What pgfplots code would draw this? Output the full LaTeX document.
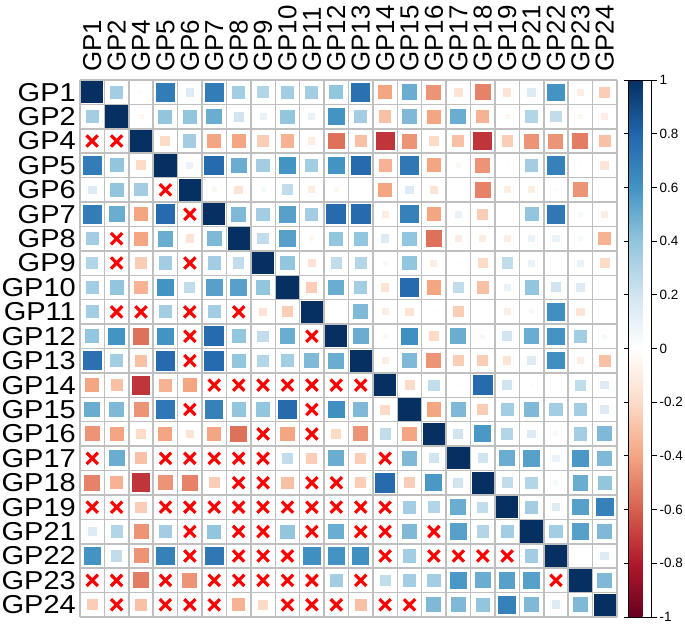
\documentclass[border=0pt]{standalone}
\usepackage{pgfplots}
\pgfplotsset{compat=1.18}
\usepackage{pgfplotstable}
\usepackage{graphicx}
\usepackage{fontspec}
\setmainfont{Liberation Sans}
\newcommand\labfont{\fontsize{26}{28}\selectfont}
\newcommand\cbfont{\fontsize{13.5}{15}\selectfont}
\newcommand\wl[1]{\scalebox{1.12}[1]{#1}}

% upper triangle (incl. diagonal): x = column index, y = row index, r = correlation,
% s = 1 if the mirrored lower-triangle cell is significant (square), 0 if crossed out
\pgfplotstableread{
x y r s
0 0 1 1
1 0 0.35 1
2 0 0.02 0
3 0 0.7 1
4 0 0.15 1
5 0 0.7 1
6 0 0.35 1
7 0 0.3 1
8 0 0.35 1
9 0 0.35 1
10 0 0.4 1
11 0 0.75 1
12 0 -0.4 1
13 0 0.5 1
14 0 -0.45 1
15 0 -0.15 0
16 0 -0.5 1
17 0 -0.15 0
18 0 0.15 1
19 0 0.6 1
20 0 -0.1 0
21 0 -0.25 1
1 1 1 1
2 1 -0.05 0
3 1 0.4 1
4 1 0.4 1
5 1 0.5 1
6 1 0.2 0
7 1 0.1 0
8 1 0.4 1
9 1 0.1 0
10 1 0.6 1
11 1 0.35 1
12 1 -0.3 1
13 1 0.45 1
14 1 -0.4 1
15 1 0.5 1
16 1 -0.35 1
17 1 -0.05 0
18 1 0.3 1
19 1 0.25 1
20 1 -0.05 0
21 1 -0.1 0
2 2 1 1
3 2 -0.2 1
4 2 0.35 1
5 2 -0.4 1
6 2 -0.4 1
7 2 -0.25 1
8 2 -0.35 1
9 2 -0.1 0
10 2 -0.55 1
11 2 -0.3 1
12 2 -0.72 1
13 2 -0.45 1
14 2 -0.2 1
15 2 -0.3 1
16 2 -0.72 1
17 2 -0.25 1
18 2 -0.45 1
19 2 -0.45 1
20 2 -0.52 1
21 2 -0.3 1
3 3 1 1
4 3 0.1 0
5 3 0.78 1
6 3 0.5 1
7 3 0.35 1
8 3 0.6 1
9 3 0.35 1
10 3 0.6 1
11 3 0.78 1
12 3 -0.35 1
13 3 0.72 1
14 3 -0.4 1
15 3 -0.05 0
16 3 -0.45 1
17 3 0.02 0
18 3 0.35 1
19 3 0.68 1
20 3 0.02 0
21 3 -0.15 0
4 4 1 1
5 4 -0.05 0
6 4 -0.15 1
7 4 0.05 0
8 4 0.25 1
9 4 -0.1 0
10 4 -0.05 0
11 4 0.02 0
12 4 -0.4 1
13 4 0.15 0
14 4 -0.15 1
15 4 0.02 0
16 4 -0.5 1
17 4 -0.1 0
18 4 -0.1 0
19 4 -0.02 0
20 4 -0.45 1
21 4 0.01 0
5 5 1 1
6 5 0.45 1
7 5 0.35 1
8 5 0.55 1
9 5 0.35 1
10 5 0.78 1
11 5 0.78 1
12 5 -0.1 0
13 5 0.68 1
14 5 -0.4 1
15 5 0.1 0
16 5 -0.25 1
17 5 0.01 0
18 5 0.4 1
19 5 0.72 1
20 5 0.05 0
21 5 -0.1 0
6 6 1 1
7 6 0.25 1
8 6 0.55 1
9 6 -0.05 0
10 6 0.4 1
11 6 0.4 1
12 6 0.15 0
13 6 0.4 1
14 6 -0.55 1
15 6 -0.1 0
16 6 -0.1 0
17 6 -0.1 0
18 6 0.1 0
19 6 0.1 0
20 6 0.05 0
21 6 -0.35 1
7 7 1 1
8 7 0.4 1
9 7 -0.15 1
10 7 0.25 1
11 7 0.3 1
12 7 0.05 0
13 7 0.4 1
14 7 -0.1 0
15 7 0.02 0
16 7 -0.2 0
17 7 0.25 0
18 7 0.1 0
19 7 0.01 0
20 7 0.1 0
21 7 -0.2 1
8 8 1 1
9 8 -0.25 1
10 8 0.5 1
11 8 0.35 1
12 8 -0.15 0
13 8 0.78 1
14 8 -0.4 1
15 8 0.25 1
16 8 -0.3 1
17 8 0.1 0
18 8 0.4 1
19 8 0.2 0
20 8 0.15 0
21 8 0.02 0
9 9 1 1
10 9 0.02 0
11 9 0.45 1
12 9 -0.1 0
13 9 -0.15 0
14 9 0.02 0
15 9 -0.25 1
16 9 0.02 0
17 9 -0.1 0
18 9 -0.05 0
19 9 0.62 1
20 9 -0.15 0
21 9 0.01 0
10 10 1 1
11 10 0.5 1
12 10 0.05 0
13 10 0.62 1
14 10 -0.2 1
15 10 0.5 1
16 10 0.05 0
17 10 0.2 0
18 10 0.5 1
19 10 0.6 1
20 10 0.35 1
21 10 0.05 0
11 11 1 1
12 11 -0.1 0
13 11 0.45 1
14 11 -0.45 1
15 11 -0.25 1
16 11 -0.25 1
17 11 -0.15 0
18 11 0.15 0
19 11 0.62 1
20 11 -0.1 0
21 11 -0.3 1
12 12 1 1
13 12 -0.2 1
14 12 0.25 1
15 12 0.02 0
16 12 0.78 1
17 12 0.2 0
18 12 0.02 0
19 12 0.01 0
20 12 0.25 1
21 12 0.15 0
13 13 1 1
14 13 -0.4 1
15 13 0.45 1
16 13 -0.25 1
17 13 0.35 1
18 13 0.45 1
19 13 0.35 1
20 13 0.35 1
21 13 0.15 0
14 14 1 1
15 14 0.2 1
16 14 0.58 1
17 14 0.3 1
18 14 0.15 0
19 14 0.05 0
20 14 0.35 1
21 14 0.45 1
15 15 1 1
16 15 0.2 1
17 15 0.5 1
18 15 0.55 1
19 15 0.1 0
20 15 0.58 1
21 15 0.45 1
16 16 1 1
17 16 0.25 1
18 16 0.3 1
19 16 0.05 0
20 16 0.5 1
21 16 0.4 1
17 17 1 1
18 17 0.35 1
19 17 0.15 0
20 17 0.55 1
21 17 0.68 1
18 18 1 1
19 18 0.35 1
20 18 0.55 1
21 18 0.45 1
19 19 1 1
20 19 0.0 0
21 19 0.15 1
20 20 1 1
21 20 0.45 1
21 21 1 1
}\corr

\begin{document}
\begin{tikzpicture}
\begin{axis}[
  at={(80bp,8bp)}, anchor=south west,
  scale only axis, width=537bp, height=537bp,
  xmin=-0.5, xmax=21.5, ymin=-0.5, ymax=21.5,
  xtick={0,...,21}, ytick={0,...,21},
  xticklabels={GP1,GP2,GP4,GP5,GP6,GP7,GP8,GP9,GP10,GP11,GP12,GP13,GP14,GP15,GP16,GP17,GP18,GP19,GP21,GP22,GP23,GP24},
  yticklabels={\wl{GP24},\wl{GP23},\wl{GP22},\wl{GP21},\wl{GP19},\wl{GP18},\wl{GP17},\wl{GP16},\wl{GP15},\wl{GP14},\wl{GP13},\wl{GP12},\wl{GP11},\wl{GP10},\wl{GP9},\wl{GP8},\wl{GP7},\wl{GP6},\wl{GP5},\wl{GP4},\wl{GP2},\wl{GP1}},
  xticklabel pos=upper,
  minor xtick={-0.5,0.5,...,21.5}, minor ytick={-0.5,0.5,...,21.5},
  xminorgrids, yminorgrids,
  minor grid style={color=gray!50, line width=1.5bp},
  major tick length=0pt, minor tick length=0pt,
  axis line style={draw=none},
  x tick label style={rotate=90, anchor=west, font=\labfont, inner sep=0pt},
  y tick label style={anchor=east, font=\labfont, inner sep=0pt},
  xticklabel shift=8bp, yticklabel shift=4bp,
  colormap={rdbu}{rgb255=(103,0,31) rgb255=(178,24,43) rgb255=(214,96,77) rgb255=(244,165,130) rgb255=(253,219,199) rgb255=(255,255,255) rgb255=(209,229,240) rgb255=(146,197,222) rgb255=(67,147,195) rgb255=(33,102,172) rgb255=(5,48,97)},
  point meta min=-1, point meta max=1,
  colorbar,
  colorbar style={
    at={(parent axis.north east)}, anchor=north west, xshift=3bp,
    scale only axis, width=23bp, height=537bp,
    y dir=normal,
    xtick=\empty, minor xtick={}, minor ytick={},
    xminorgrids=false, yminorgrids=false,
    ytick={-1,-0.8,-0.6,-0.4,-0.2,0,0.2,0.4,0.6,0.8,1},
    yticklabels={-1,-0.8,-0.6,-0.4,-0.2,0,0.2,0.4,0.6,0.8,1},
    yticklabel pos=right,
    y tick label style={font=\cbfont, anchor=west, inner sep=0pt, rotate=0},
    yticklabel shift=3bp,
    tick align=outside, major tick length=5bp,
    axis line style={draw=black, line width=0.8bp},
    every tick/.style={black, line width=0.8bp},
  },
  clip=false,
]
% upper triangle and diagonal: all squares
\addplot[scatter, only marks, mark=square*,
  point meta=explicit,
  mark options={draw opacity=0, line width=0pt},
  visualization depends on={11.2*sqrt(abs(\thisrow{r}))\as\msize},
  scatter/@pre marker code/.append style={/tikz/mark size=\msize}]
  table[x=x, y expr={21-\thisrow{y}}, meta=r] {\corr};
% lower triangle: significant cells as squares
\addplot[scatter, only marks, mark=square*,
  point meta=explicit,
  mark options={draw opacity=0, line width=0pt},
  restrict expr to domain={\thisrow{s}}{0.5:1.5}, unbounded coords=discard,
  visualization depends on={11.2*sqrt(abs(\thisrow{r}))\as\msize},
  scatter/@pre marker code/.append style={/tikz/mark size=\msize}]
  table[x=y, y expr={21-\thisrow{x}}, meta=r] {\corr};
% lower triangle: non-significant cells crossed out
\addplot[only marks, mark=x, mark size=8, color=red,
  mark options={line width=3.2bp},
  restrict expr to domain={\thisrow{s}}{-0.5:0.5}, unbounded coords=discard]
  table[x=y, y expr={21-\thisrow{x}}] {\corr};
\end{axis}
\pgfresetboundingbox
\path[use as bounding box] (0,0) rectangle (685bp,625bp);
\end{tikzpicture}
\end{document}
